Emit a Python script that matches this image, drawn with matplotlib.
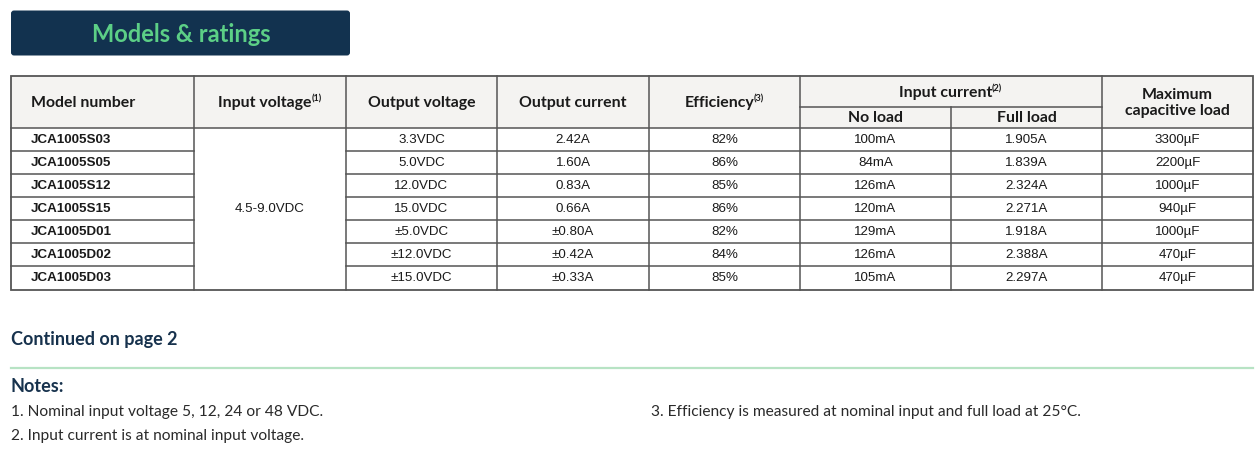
import matplotlib
matplotlib.use("Agg")
import matplotlib.pyplot as plt
from matplotlib.patches import FancyBboxPatch, Rectangle

title = "Models & ratings"
models = ["JCA1005S03", "JCA1005S05", "JCA1005S12", "JCA1005S15",
          "JCA1005D01", "JCA1005D02", "JCA1005D03"]
input_voltage = "4.5-9.0VDC"
output_voltage = ["3.3VDC", "5.0VDC", "12.0VDC", "15.0VDC", "±5.0VDC", "±12.0VDC", "±15.0VDC"]
output_current = ["2.42A", "1.60A", "0.83A", "0.66A", "±0.80A", "±0.42A", "±0.33A"]
efficiency = ["82%", "86%", "85%", "86%", "82%", "84%", "85%"]
no_load = ["100mA", "84mA", "126mA", "120mA", "129mA", "126mA", "105mA"]
full_load = ["1.905A", "1.839A", "2.324A", "2.271A", "1.918A", "2.388A", "2.297A"]
max_cap = ["3300µF", "2200µF", "1000µF", "940µF", "1000µF", "470µF", "470µF"]
notes = ["1. Nominal input voltage 5, 12, 24 or 48 VDC.",
         "2. Input current is at nominal input voltage.",
         "3. Efficiency is measured at nominal input and full load at 25°C."]

W, H = 1260, 455
fig = plt.figure(figsize=(W / 100, H / 100), dpi=100)
ax = fig.add_axes([0, 0, 1, 1])
ax.set_xlim(0, W)
ax.set_ylim(H, 0)
ax.axis("off")

navy = "#12324f"
green = "#5ccf86"
grid = "#555555"
txt = "#1a1a1a"

# Banner
ax.add_patch(FancyBboxPatch((11, 10.5), 339, 45, boxstyle="round,pad=0,rounding_size=3",
                            facecolor=navy, edgecolor="none"))
ax.text(181, 35, title, ha="center", va="center", fontsize=17, color=green,
        family="Lato", fontweight="bold")

# Table geometry
xs = [11, 194, 346, 497, 649, 800, 951, 1102, 1253]
top, hdr_bot, sub_y = 76, 127.5, 106.5
n = len(models)
bot = 289.5
rh = (bot - hdr_bot) / n
ys = [hdr_bot + i * rh for i in range(n + 1)]

# header background
ax.add_patch(Rectangle((xs[0], top), xs[-1] - xs[0], hdr_bot - top,
                       facecolor="#f4f3f1", edgecolor="none"))

lw = 1.1
ax.add_patch(Rectangle((xs[0], top), xs[-1] - xs[0], bot - top, facecolor="none",
                       edgecolor=grid, linewidth=1.3))
for i, x in enumerate(xs[1:-1], start=1):
    if i == 6:
        ax.plot([x, x], [sub_y, bot], color=grid, lw=lw)
    else:
        ax.plot([x, x], [top, bot], color=grid, lw=lw)
ax.plot([xs[5], xs[7]], [sub_y, sub_y], color=grid, lw=lw)
for j, y in enumerate(ys[:-1]):
    if j == 0:
        ax.plot([xs[0], xs[-1]], [y, y], color=grid, lw=lw)
    else:
        ax.plot([xs[0], xs[1]], [y, y], color=grid, lw=lw)
        ax.plot([xs[2], xs[-1]], [y, y], color=grid, lw=lw)

# header text
hfs = 11.4
hmid = (top + hdr_bot) / 2
hkw = dict(family="Lato", fontweight="bold", color=txt, fontsize=hfs, va="center")
ax.text(31, hmid + 1, "Model number", ha="left", **hkw)

fig.canvas.draw()
def width_of(s, **kw):
    t = ax.text(0, 0, s, ha="left", **kw)
    bb = t.get_window_extent().transformed(ax.transData.inverted())
    t.remove()
    return bb.x1 - bb.x0

supkw = dict(family="Lato", fontweight="bold", fontsize=6.5, color=txt, va="center")
def sup_header(xc, y, main, sup):
    wm = width_of(main, **hkw)
    ws = width_of(sup, **supkw)
    x0 = xc - (wm + ws) / 2
    ax.text(x0, y, main, ha="left", **hkw)
    ax.text(x0 + wm - 0.5, y - 4, sup, ha="left", **supkw)

sup_header((xs[1] + xs[2]) / 2, hmid + 1, "Input voltage", "(1)")
ax.text((xs[2] + xs[3]) / 2, hmid + 1, "Output voltage", ha="center", **hkw)
ax.text((xs[3] + xs[4]) / 2, hmid + 1, "Output current", ha="center", **hkw)
sup_header((xs[4] + xs[5]) / 2, hmid + 1, "Efficiency", "(3)")
sup_header((xs[5] + xs[7]) / 2, (top + sub_y) / 2 + 1.5, "Input current", "(2)")
ax.text((xs[5] + xs[6]) / 2, (sub_y + hdr_bot) / 2 + 1, "No load", ha="center", **hkw)
ax.text((xs[6] + xs[7]) / 2, (sub_y + hdr_bot) / 2 + 1, "Full load", ha="center", **hkw)
ax.text((xs[7] + xs[8]) / 2, hmid + 1.5, "Maximum\ncapacitive load", ha="center",
        linespacing=1.2, **hkw)

# data
dfs = 9.6
dkw = dict(family="Liberation Sans", fontsize=dfs, color=txt, va="center")
cols = [output_voltage, output_current, efficiency, no_load, full_load, max_cap]
for i in range(n):
    yc = (ys[i] + ys[i + 1]) / 2 + 0.5
    ax.text(31, yc, models[i], ha="left", fontweight="bold", **dkw)
    for k, col in enumerate(cols):
        xc = (xs[2 + k] + xs[3 + k]) / 2
        ax.text(xc, yc, col[i], ha="center", **dkw)
ax.text((xs[1] + xs[2]) / 2, (hdr_bot + bot) / 2 + 0.5, input_voltage, ha="center", **dkw)

# continued + notes
ax.text(11, 340, "Continued on page 2", family="Lato", fontweight="bold", fontsize=13,
        color="#17324d", ha="left", va="center")
ax.plot([11, 1253], [368, 368], color="#b7e3c4", lw=1.6)
ax.text(11, 387, "Notes:", family="Lato", fontweight="bold", fontsize=13,
        color="#17324d", ha="left", va="center")
nkw = dict(family="Lato", fontsize=11.2, color="#2a2a2a", ha="left", va="center")
ax.text(11, 412, notes[0], **nkw)
ax.text(11, 436, notes[1], **nkw)
ax.text(651, 412, notes[2], **nkw)

fig.savefig("out.png", dpi=100)
